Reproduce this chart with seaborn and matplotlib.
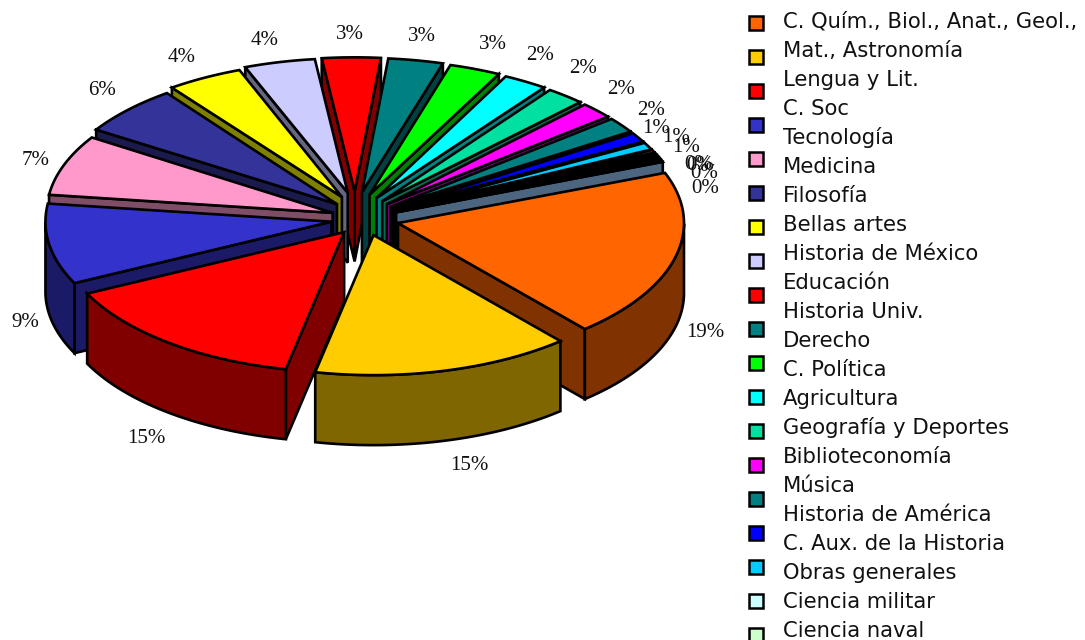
import matplotlib

matplotlib.use("Agg")
import matplotlib.pyplot as plt
import numpy as np
import pandas as pd
import seaborn as sns
from matplotlib.patches import Polygon

# shares (degrees / 3.6), labels as printed
shares = [19.5, 14.6, 14.5, 9.3, 7.0, 5.8, 4.3, 4.0, 3.3, 3.1, 2.9, 2.5, 2.2, 1.9, 1.8,
          1.1, 0.85, 0.3, 0.25, 0.25, 0.25, 0.25]
pct_labels = [19, 15, 15, 9, 7, 6, 4, 4, 3, 3, 3, 2, 2, 2, 2, 1, 1, 1, 0, 0, 0, 0]
colors = ["#FF6600", "#FFCC00", "#FF0000", "#3333CC", "#FF99CC", "#333399", "#FFFF00",
          "#CCCCFF", "#FF0000", "#008080", "#00FF00", "#00FFFF", "#00E0A0", "#FF00FF",
          "#008080", "#0000FF", "#00CCFF", "#CCFFFF", "#CCFFCC", "#FFFF99", "#FF99CC",
          "#99CCFF"]
categories = ["C. Quím., Biol., Anat., Geol.,", "Mat., Astronomía", "Lengua y Lit.", "C. Soc",
              "Tecnología", "Medicina", "Filosofía", "Bellas artes", "Historia de México",
              "Educación", "Historia Univ.", "Derecho", "C. Política", "Agricultura",
              "Geografía y Deportes", "Biblioteconomía", "Música", "Historia de América",
              "C. Aux. de la Historia", "Obras generales", "Ciencia militar", "Ciencia naval"]

# pie geometry, in pixels
CX, CY = 365, 219
RX, RY = 286, 140
DEPTH = 70
EXPLODE = 34
START = 21
LW = 1.9

# small shifts from the radial label position
label_nudge = [(-6, 1), (15, 7), (1, 11), (13, 5), (6, 1), (-2, -9), (-11, -8), (-15, -9),
               (-11, -10), (-10, -11), (-4, -12), (-11, -14), (-11, -16), (-6, -11), (-3, -5),
               (-16, -1), (-6, -1), (-2, 3), (7, 18), (11, 24), (5, 14), (8, 34)]

sns.set_style("white")
plt.rcParams["font.family"] = ["DejaVu Sans"]

fig = plt.figure(figsize=(10.85, 6.4), dpi=100)
ax = fig.add_axes([0, 0, 1, 1])
ax.set_xlim(0, 1085)
ax.set_ylim(640, 0)
ax.axis("off")


def wall(points, color, z):
    lower = points[::-1] + [0, DEPTH]
    ax.add_patch(Polygon(np.vstack([points, lower]), closed=True, facecolor=color,
                         edgecolor="black", linewidth=LW, zorder=z))


def draw_slice(t0, t1, color, z):
    mid = np.radians((t0 + t1) / 2)
    # the far side of the pie sits a bit higher and tighter (perspective of the original)
    s = max(np.sin(mid), 0) ** 3
    x0 = CX + EXPLODE * np.cos(mid) - 10 * s
    y0 = CY - EXPLODE * 0.49 * np.sin(mid) - 11 * s
    ry = RY - 6 * s
    ts = np.linspace(t0, t1, max(int(t0 - t1) * 2, 3))
    arc = np.column_stack([x0 + RX * np.cos(np.radians(ts)), y0 - ry * np.sin(np.radians(ts))])
    apex = np.array([[x0, y0]])
    dark = tuple(c / 2 for c in matplotlib.colors.to_rgb(color))

    # radial walls, only the ones facing the viewer
    if arc[0, 0] < x0:
        wall(np.vstack([apex, arc[:1]]), dark, z)
    if arc[-1, 0] > x0:
        wall(np.vstack([arc[-1:], apex]), dark, z)
    # outer wall, lower half of the ellipse only
    front = np.sin(np.radians(ts)) < 0
    if front.sum() > 1:
        wall(arc[front], dark, z)
    ax.add_patch(Polygon(np.vstack([apex, arc]), closed=True, facecolor=color,
                         edgecolor="black", linewidth=LW, zorder=z))


ends = START - np.cumsum(shares) * 3.6
starts = np.r_[START, ends[:-1]]
mids = (starts + ends) / 2

# back slices first
order = np.argsort(-np.sin(np.radians(mids)))
for z, i in enumerate(order):
    draw_slice(starts[i], ends[i], colors[i], z + 2)

for i, pct in enumerate(pct_labels):
    t = np.radians(mids[i])
    x = CX + 1.25 * RX * np.cos(t) + label_nudge[i][0]
    y = CY - 1.25 * RY * np.sin(t) + label_nudge[i][1]
    if np.sin(t) < 0:
        y += DEPTH
    ax.text(x, y, f"{pct}%", ha="center", va="center", fontsize=15,
            family="Liberation Serif", color="#111111", zorder=100)

# legend: swatches and texts run on different spacings in the original
swatches = pd.DataFrame({"x": 756, "y": 23 + 34 * np.arange(len(colors)), "c": range(len(colors))})
sns.scatterplot(data=swatches, x="x", y="y", hue="c", palette=colors, marker="s", s=100,
                edgecolor="black", linewidth=1.8, joinstyle="miter", legend=False, ax=ax,
                zorder=50)
ax.set_xlim(0, 1085)
ax.set_ylim(640, 0)
ax.axis("off")

for i, name in enumerate(categories):
    ax.text(783, 22 + 29 * i, name, ha="left", va="center", fontsize=15.2, color="#111111",
            zorder=100)

fig.savefig("out.png", dpi=100)
